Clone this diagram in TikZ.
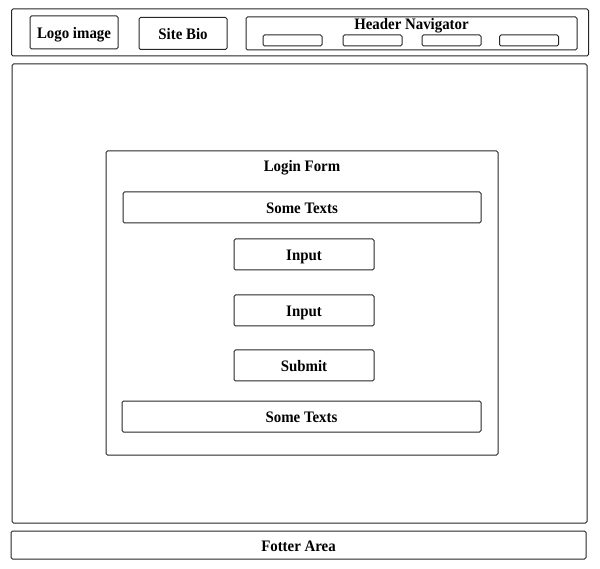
\documentclass[tikz,border=0pt]{standalone}
\usepackage{fontspec}
\setmainfont[FakeStretch=0.93]{Liberation Serif}
\begin{document}
\begin{tikzpicture}[x=1pt, y=-1pt,
    box/.style={draw=black!85, line width=1pt, rounded corners=1.5pt, inner sep=0pt,
        text height=12pt, text depth=0pt, font=\bfseries\fontsize{16}{18}\selectfont},
    navbtn/.style={draw=black!85, line width=1pt, rounded corners=1.5pt, inner sep=0pt,
        minimum width=59pt, minimum height=11pt},
    title/.style={font=\bfseries\fontsize{16}{18}\selectfont, inner sep=0pt}]
    \useasboundingbox (0,0) rectangle (600,569);

    % Header
    \node[box, minimum width=577pt, minimum height=47pt] (header) at (300,32.5) {};
    \node[box, minimum width=88pt, minimum height=33pt] (logo) at (74,32.5) {Logo image};
    \node[box, minimum width=88pt, minimum height=32pt] (bio) at (183,33.5) {Site Bio};
    \node[box, minimum width=331pt, minimum height=33pt,
        label={[title, anchor=north, yshift=-1.5pt]north:Header Navigator}] (nav) at (411.5,33.5) {};
    \node[navbtn] (btn1) at (292.5,40.5) {};
    \node[navbtn] (btn2) at (372.5,40.5) {};
    \node[navbtn] (btn3) at (451.5,40.5) {};
    \node[navbtn] (btn4) at (529,40.5) {};

    % Content area
    \node[box, minimum width=575pt, minimum height=459pt] (main) at (299.5,293.5) {};
    \node[box, minimum width=392pt, minimum height=304pt,
        label={[title, anchor=north, yshift=-10pt]north:Login Form}] (login) at (302,303) {};
    \node[box, minimum width=358pt, minimum height=31pt] (text1) at (302,207.5) {Some Texts};
    \node[box, minimum width=140pt, minimum height=31pt] (input1) at (304,254.5) {Input};
    \node[box, minimum width=140pt, minimum height=31pt] (input2) at (304,310.5) {Input};
    \node[box, minimum width=140pt, minimum height=31pt] (submit) at (304,365.5) {Submit};
    \node[box, minimum width=359pt, minimum height=31pt] (text2) at (301.5,416.5) {Some Texts};

    % Footer
    \node[box, minimum width=575pt, minimum height=28pt] (footer) at (298.5,545) {Fotter Area};
\end{tikzpicture}
\end{document}
